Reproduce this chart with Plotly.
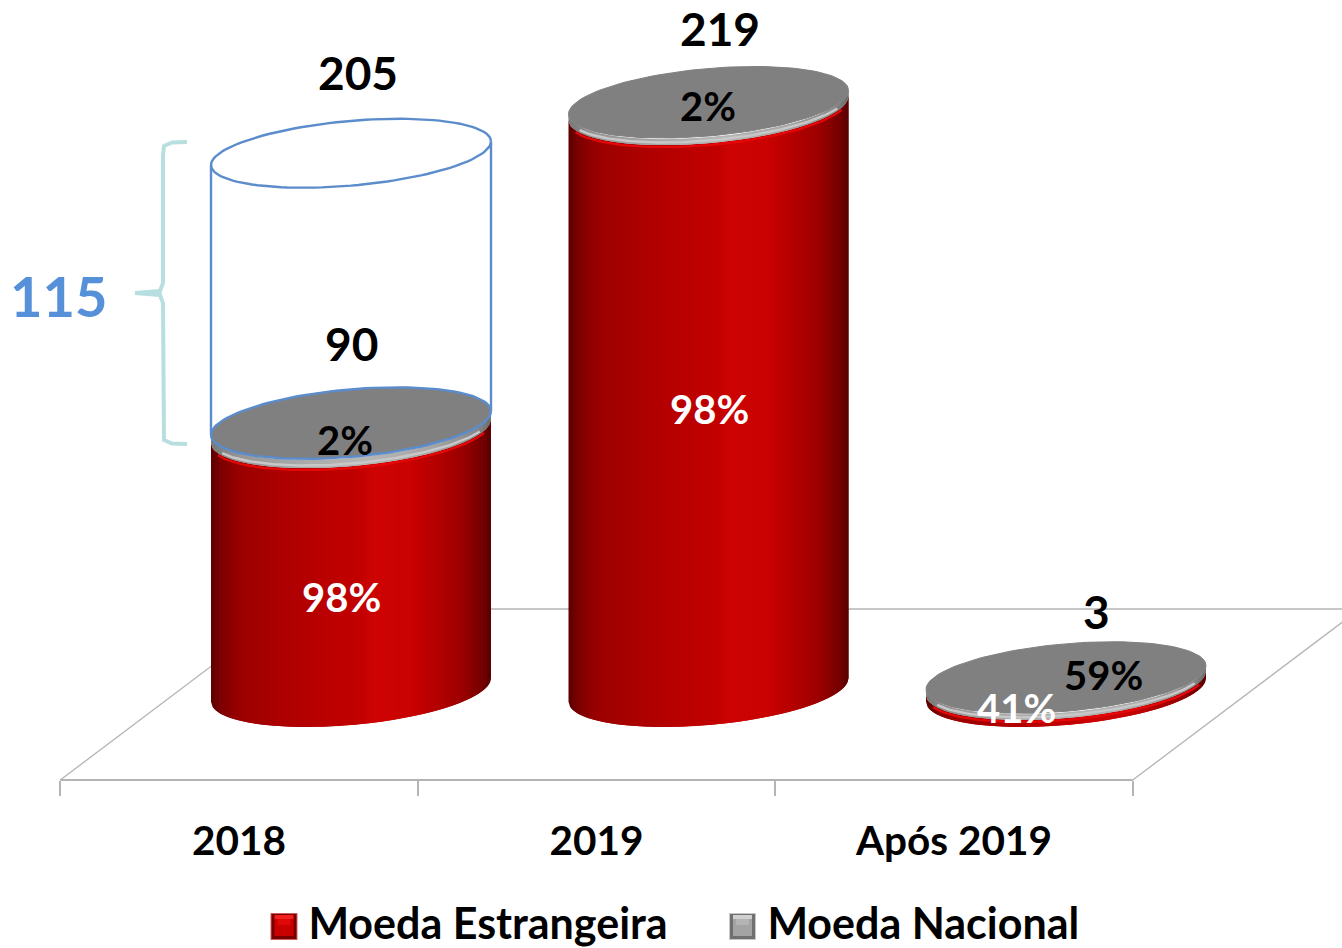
import numpy as np
import plotly.graph_objects as go

categories = ["2018", "2019", "Após 2019"]
total_labels = ["90", "219", "3"]
foreign_share = ["98%", "98%", "41%"]
national_share = ["2%", "2%", "59%"]
# heights of the cylinder segments as they read on the value axis of the picture
foreign_height = [96.4, 216.7, 2.6]
national_height = [3.0, 2.2, 2.05]
planned_total_label = "205"
planned_height = 199.9
difference_label = "115"
series_names = ["Moeda Estrangeira", "Moeda Nacional"]

W, H = 1342, 970           # the page clips the figure at 948; the extra room keeps the legend from shrinking the plot
X0, DX = 239.0, 357.5      # pixel of first category, pixels per category
Y0, DY = 690.0, 2.685      # pixel of value 0, pixels per unit


def xd(px):
    return (px - X0) / DX


def yd(py):
    return (Y0 - py) / DY


DEPTH = 112 / DX
A = 140 / DX
B = 35 / DY
B_DISC = 33.8 / DY
B_WIRE = 32.4 / DY
SHEAR = 11.8 / DY
FONT = "Lato"

RED_STOPS = [(-1, (90, 0, 0)), (-0.93, (125, 0, 0)), (-0.8, (155, 0, 0)), (-0.5, (172, 0, 0)), (-0.2, (186, 0, 0)),
             (0.05, (194, 0, 0)), (0.18, (206, 4, 4)), (0.42, (202, 2, 2)), (0.58, (184, 0, 0)), (0.8, (156, 0, 0)),
             (0.95, (112, 0, 0)), (1, (86, 0, 0))]
GREY_STOPS = [(-1, (120, 120, 120)), (-0.8, (150, 150, 150)), (-0.3, (172, 172, 172)), (0.1, (182, 182, 182)),
              (0.6, (165, 165, 165)), (0.9, (135, 135, 135)), (1, (110, 110, 110))]


def ramp(stops, u):
    us = [s[0] for s in stops]
    return "rgb(%d,%d,%d)" % tuple(np.interp(u, us, [s[1][i] for s in stops]) for i in range(3))


def edge(u, h, sign):
    return h + SHEAR * u + sign * B * np.sqrt(np.clip(1 - u * u, 0, 1))


fig = go.Figure()


def poly(x, y, color, width=1.0, fill=True):
    fig.add_trace(go.Scatter(
        x=x, y=y, mode="lines", fill="toself" if fill else None, fillcolor=color if fill else None,
        line=dict(color=color, width=width), hoverinfo="skip", showlegend=False))


def body(c, h0, h1, stops, strips=70):
    edges = np.linspace(-1, 1, strips + 1)
    step = edges[1] - edges[0]
    for a, b in zip(edges[:-1], edges[1:]):
        b2 = min(b + step, 1.0)          # overlap the next strip so that no seam shows
        us = np.linspace(a, b2, 6)
        xs = c + us * A
        low = edge(us, h0, -1)
        high = edge(us, h1, -1)
        poly(np.r_[xs, xs[::-1]], np.r_[low, high[::-1]], ramp(stops, (a + b) / 2), width=0)


def ellipse(c, h, b):
    t = np.linspace(0, 2 * np.pi, 121)
    return c + A * np.cos(t), h + SHEAR * np.cos(t) + b * np.sin(t)


# floor
fy, by = yd(780), yd(609)
fx = [-0.5, 2.5]
floor_shift = 227 / DX
line_grey = "#b4b4b4"
poly([fx[0], fx[1]], [fy, fy], line_grey, width=2.2, fill=False)
poly([fx[0], fx[0] + floor_shift], [fy, by], line_grey, width=1.3, fill=False)
poly([fx[1], fx[1] + floor_shift], [fy, by], line_grey, width=1.3, fill=False)
poly([fx[0] + floor_shift, fx[1] + floor_shift], [by, by], line_grey, width=1.6, fill=False)

# cylinders
for i in range(len(categories)):
    c = i + DEPTH
    h_f = foreign_height[i]
    h_t = h_f + national_height[i]
    body(c, 0, h_f, RED_STOPS)
    us = np.linspace(-0.95, 0.95, 80)
    poly(c + us * A, edge(us, h_f, -1) - 2.0 / DY, "#e60808", width=2.2, fill=False)
    body(c, h_f, h_t, GREY_STOPS)
    us = np.linspace(-0.92, 0.92, 80)
    poly(c + us * A, edge(us, h_f, -1) + 2.6 / DY, "#c8c8c8", width=2.4, fill=False)
    ex, ey = ellipse(c, h_t, B_DISC)
    poly(ex, ey, "#808080", width=1.0)

# planned outline over the 2018 cylinder
c0 = DEPTH
base = foreign_height[0] + national_height[0]
wire = "#5b8ccb"
ex, ey = ellipse(c0, base, B_DISC)
poly(ex, ey, wire, width=2.4, fill=False)
ex, ey = ellipse(c0, planned_height, B_WIRE)
poly(ex, ey, wire, width=2.4, fill=False)
poly([c0 - A, c0 - A], [base - SHEAR, planned_height - SHEAR], wire, width=2.4, fill=False)
poly([c0 + A, c0 + A], [base + SHEAR, planned_height + SHEAR], wire, width=2.4, fill=False)

# brace
bx = [187, 172, 164, 163, 163, 160, 135, 160, 163, 163, 164, 172, 187]
bp = [142, 142.5, 146, 155, 283, 291, 293, 295, 303, 431, 440, 443.5, 444]
poly([xd(v) for v in bx], [yd(v) for v in bp], "#b8dfe0", width=4, fill=False)


def square(x0, x1, y0, y1, color):
    poly([xd(x0), xd(x1), xd(x1), xd(x0), xd(x0)], [yd(y0), yd(y0), yd(y1), yd(y1), yd(y0)], color, width=0)


# legend keys: bevelled squares next to the legend texts
for x0, rim, left, top, face, glow in [(270.5, "#d06060", "#7a0000", "#f02020", "#c80000", "#e00808"),
                                       (729, "#c8c8c8", "#707070", "#d0d0d0", "#a4a4a4", "#b4b4b4")]:
    square(x0, x0 + 27, 913, 940, rim)
    square(x0 + 1, x0 + 26, 914, 939, left)
    square(x0 + 4, x0 + 23, 915, 920, top)
    square(x0 + 4, x0 + 23, 919, 936, face)
    square(x0 + 7, x0 + 20, 919, 925, glow)

for name in series_names:
    fig.add_trace(go.Scatter(x=[None], y=[None], mode="markers", name=name, hoverinfo="skip",
                             marker=dict(symbol="square", size=12, color="rgba(0,0,0,0)")))


def label(px, py, text, size, color="black"):
    fig.add_annotation(x=xd(px), y=yd(py), text=text, showarrow=False, xanchor="center", yanchor="middle",
                       font=dict(family=FONT, size=size, color=color, weight=700))


label(358, 72, planned_total_label, 46)
label(351, 343, total_labels[0], 46)
label(720, 28, total_labels[1], 46)
label(1096, 611, total_labels[2], 46)
label(345, 440, national_share[0], 40)
label(708, 106, national_share[1], 40)
label(1103, 675, national_share[2], 40)
label(341, 597, foreign_share[0], 40, "white")
label(709, 409, foreign_share[1], 40, "white")
label(1016, 708, foreign_share[2], 40, "white")
label(58, 295, difference_label, 56, "#5590d9")

fig.update_layout(
    width=W, height=H, autosize=False, margin=dict(l=0, r=0, t=0, b=0),
    paper_bgcolor="white", plot_bgcolor="white",
    xaxis=dict(range=[xd(0), xd(W)], anchor="free", position=(H - 780) / H, showgrid=False, zeroline=False,
               showline=False, tickmode="array", tickvals=[0, 1, 2], ticktext=categories, ticks="",
               ticklabelstandoff=33, tickfont=dict(family=FONT, size=40.5, color="black", weight=700),
               minor=dict(tickmode="array", tickvals=[-0.5, 0.5, 1.5, 2.5], ticks="outside", ticklen=15,
                          tickwidth=1.5, tickcolor=line_grey, showgrid=False)),
    yaxis=dict(range=[yd(H), yd(0)], domain=[0, 1], visible=False),
    legend=dict(orientation="h", x=0.2, xanchor="left", y=(H - 922) / H, yanchor="middle", itemsizing="trace",
                entrywidth=414, entrywidthmode="pixels",
                font=dict(family=FONT, size=43, color="black", weight=700), bgcolor="rgba(0,0,0,0)"),
    showlegend=True,
)

fig.write_html("out.html", config={"displayModeBar": False},
               post_script="document.body.style.margin='0';document.body.style.overflow='hidden';")
